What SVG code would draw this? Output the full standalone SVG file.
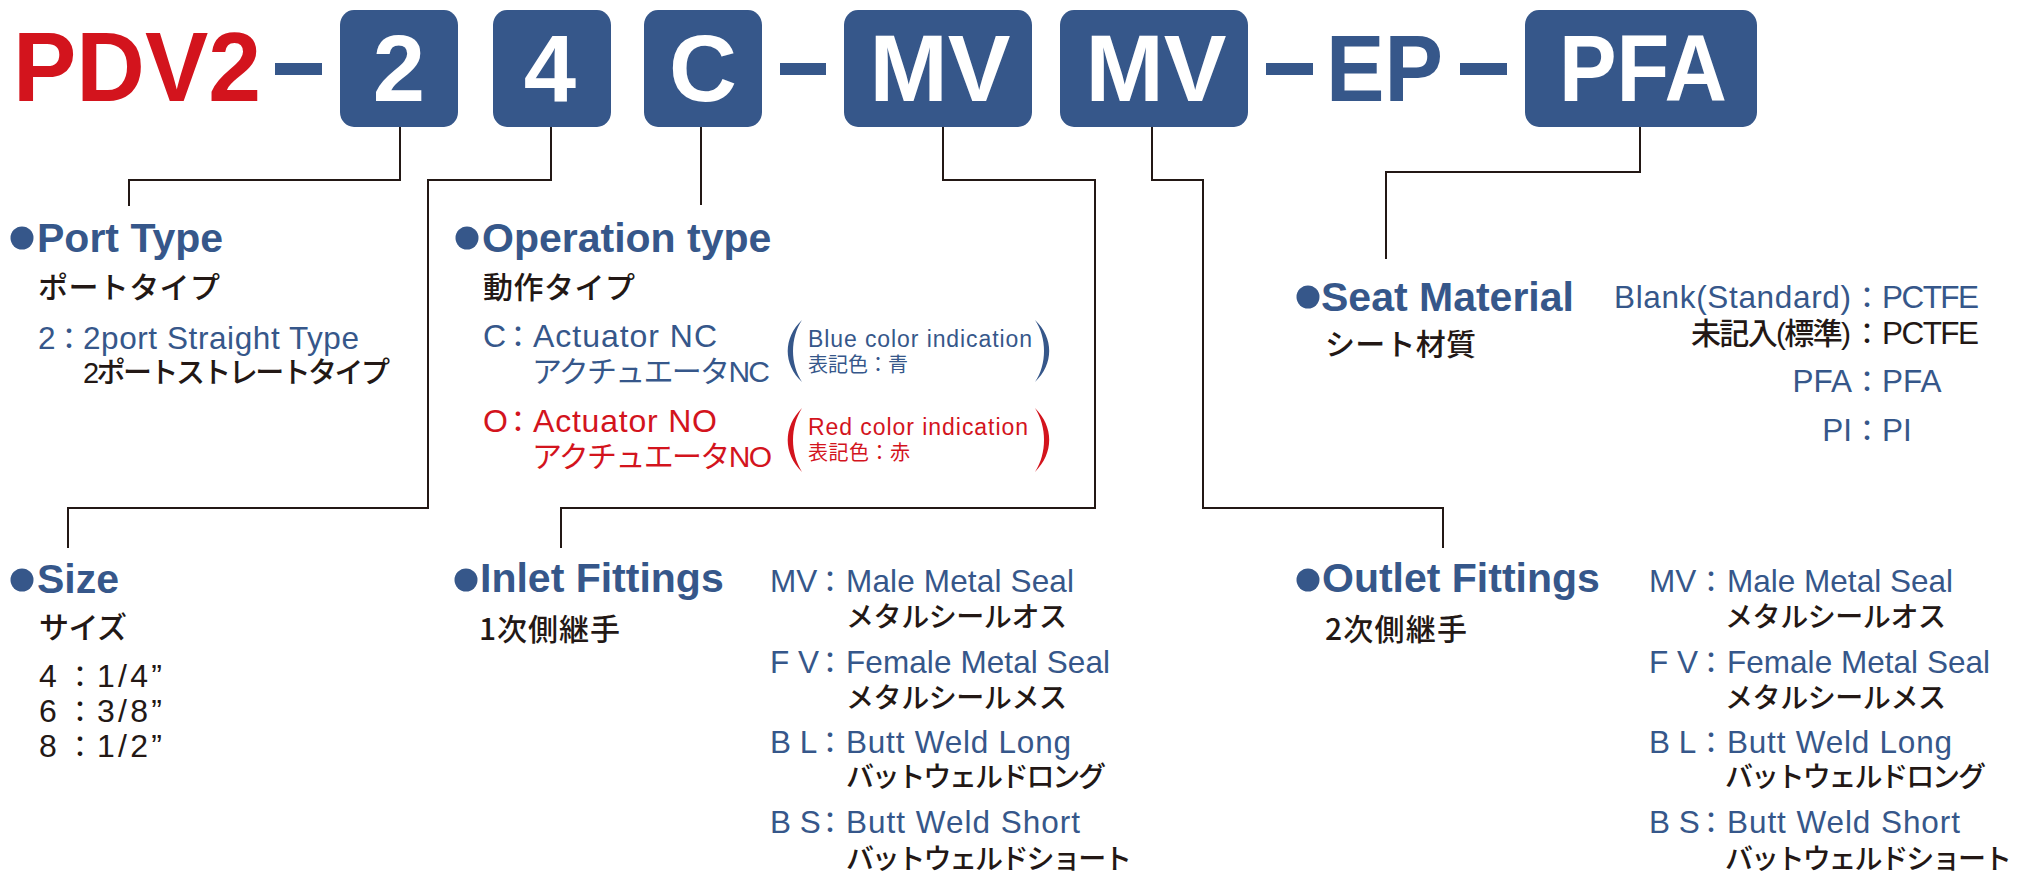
<svg xmlns="http://www.w3.org/2000/svg" width="2021" height="882" viewBox="0 0 2021 882">
<style>
.bf{fill:#36578a}
.rf{fill:#d3141d}
.kf{fill:#231815}
.box{fill:#36578a}
.title{font-family:"Liberation Sans",Arial,sans-serif;font-weight:bold;font-size:99px}
.code{font-family:"Liberation Sans",Arial,sans-serif;font-weight:bold;font-size:94px;text-anchor:middle;fill:#ffffff}
.h{font-family:"Liberation Sans",Arial,sans-serif;font-weight:bold;font-size:41px;fill:#36578a}
.j{font-family:"Noto Sans CJK JP",sans-serif;font-weight:500;font-size:30px;fill:#231815}
.o{font-family:"Liberation Sans","Noto Sans CJK JP",sans-serif;font-size:31.5px}
.oj{font-family:"Liberation Sans","Noto Sans CJK JP",sans-serif;font-weight:500;font-size:28px}
.c{font-family:"Noto Sans CJK JP",sans-serif;font-size:30px}
.s{font-family:"Liberation Sans","Noto Sans CJK JP",sans-serif;font-size:23px}
.sj{font-family:"Noto Sans CJK JP",sans-serif;font-size:20px}
.e{text-anchor:end}
.ln{fill:none;stroke:#231815;stroke-width:2}
</style>

<g id="connectors">
<path class="ln" d="M400,127 V180 H129 V206"/>
<path class="ln" d="M551,127 V180 H428 V508 H68 V548"/>
<path class="ln" d="M701,127 V205"/>
<path class="ln" d="M943,127 V180 H1095 V508 H561 V548"/>
<path class="ln" d="M1152,127 V180 H1203 V508 H1443 V548"/>
<path class="ln" d="M1640,127 V172 H1386 V259"/>
</g>

<g id="model-code">
<text class="title rf" x="13" y="101" textLength="248" lengthAdjust="spacingAndGlyphs">PDV2</text>
<rect class="bf" x="275" y="63" width="47" height="12"/>
<rect class="bf" x="780" y="63" width="46" height="12"/>
<rect class="bf" x="1266" y="63" width="47" height="12"/>
<rect class="bf" x="1460" y="63" width="47" height="12"/>
<text class="title bf" x="1326" y="101" textLength="117" lengthAdjust="spacingAndGlyphs" style="font-size:94px">EP</text>
</g>

<g id="box-port">
<rect class="box" x="340" y="10" width="118" height="117" rx="14" ry="15"/>
<text class="code" x="399" y="101">2</text>
</g>
<g id="box-size">
<rect class="box" x="493" y="10" width="118" height="117" rx="14" ry="15"/>
<text class="code" x="550" y="101">4</text>
</g>
<g id="box-operation">
<rect class="box" x="644" y="10" width="118" height="117" rx="14" ry="15"/>
<text class="code" x="703" y="101">C</text>
</g>
<g id="box-inlet">
<rect class="box" x="844" y="10" width="188" height="117" rx="14" ry="15"/>
<text class="code" x="940" y="101">MV</text>
</g>
<g id="box-outlet">
<rect class="box" x="1060" y="10" width="188" height="117" rx="14" ry="15"/>
<text class="code" x="1156" y="101">MV</text>
</g>
<g id="box-seat">
<rect class="box" x="1525" y="10" width="232" height="117" rx="14" ry="15"/>
<text class="code" x="1643" y="101" textLength="168" lengthAdjust="spacingAndGlyphs">PFA</text>
</g>

<g id="port-type">
<circle class="bf" cx="22" cy="238" r="11.5"/>
<text class="h" x="37" y="252">Port Type</text>
<text class="j" x="38" y="298" textLength="182">ポートタイプ</text>
<text class="o bf" x="38" y="349">2</text>
<text class="c bf" x="54" y="349">：</text>
<text class="o bf" x="83" y="349" textLength="276">2port Straight Type</text>
<text class="oj kf" x="83" y="383" textLength="307" style="font-size:29px">2ポートストレートタイプ</text>
</g>

<g id="operation-type">
<circle class="bf" cx="467" cy="238" r="11.5"/>
<text class="h" x="482" y="252">Operation type</text>
<text class="j" x="483" y="298" textLength="152">動作タイプ</text>
<text class="o bf" x="483" y="347" style="font-size:32px">C</text>
<text class="c bf" x="503" y="347">：</text>
<text class="o bf" x="533" y="347" textLength="184" style="font-size:32px">Actuator NC</text>
<text class="o bf" x="532" y="382" textLength="238" style="font-size:30px">アクチュエータNC</text>
<path class="bf" d="M802,320 C783,338 783,364 802,382 C790,364 790,338 802,320 Z"/>
<path class="bf" d="M1035,320 C1054,338 1054,364 1035,382 C1047,364 1047,338 1035,320 Z"/>
<text class="s bf" x="808" y="347" textLength="224">Blue color indication</text>
<text class="sj bf" x="808" y="372" textLength="100">表記色：青</text>
<text class="o rf" x="483" y="432" style="font-size:32px">O</text>
<text class="c rf" x="503" y="432">：</text>
<text class="o rf" x="533" y="432" textLength="184" style="font-size:32px">Actuator NO</text>
<text class="o rf" x="532" y="467" textLength="240" style="font-size:30px">アクチュエータNO</text>
<path class="rf" d="M802,408 C783,427 783,453 802,472 C790,453 790,427 802,408 Z"/>
<path class="rf" d="M1035,408 C1054,427 1054,453 1035,472 C1047,453 1047,427 1035,408 Z"/>
<text class="s rf" x="808" y="435" textLength="220">Red color indication</text>
<text class="sj rf" x="808" y="460" textLength="102">表記色：赤</text>
</g>

<g id="size">
<circle class="bf" cx="22" cy="580" r="11.5"/>
<text class="h" x="37" y="593">Size</text>
<text class="j" x="39" y="638" textLength="88">サイズ</text>
<text class="o kf" x="39" y="687" style="font-size:32px">4</text>
<text class="c kf" x="65" y="687">：</text>
<text class="o kf" x="97" y="687" textLength="65" style="font-size:32px">1/4”</text>
<text class="o kf" x="39" y="722" style="font-size:32px">6</text>
<text class="c kf" x="65" y="722">：</text>
<text class="o kf" x="97" y="722" textLength="65" style="font-size:32px">3/8”</text>
<text class="o kf" x="39" y="757" style="font-size:32px">8</text>
<text class="c kf" x="65" y="757">：</text>
<text class="o kf" x="97" y="757" textLength="65" style="font-size:32px">1/2”</text>
</g>

<g id="inlet-fittings">
<circle class="bf" cx="466" cy="580" r="11.5"/>
<text class="h" x="480" y="592">Inlet Fittings</text>
<text class="j" x="479" y="640" textLength="141">1次側継手</text>
<text class="o bf" x="770" y="592">MV</text>
<text class="c bf" x="815" y="592">：</text>
<text class="o bf" x="846" y="592" textLength="228">Male Metal Seal</text>
<text class="oj kf" x="846" y="627" textLength="221">メタルシールオス</text>
<text class="o bf" x="770" y="673">F V</text>
<text class="c bf" x="815" y="673">：</text>
<text class="o bf" x="846" y="673" textLength="264">Female Metal Seal</text>
<text class="oj kf" x="846" y="708" textLength="221">メタルシールメス</text>
<text class="o bf" x="770" y="753">B L</text>
<text class="c bf" x="815" y="753">：</text>
<text class="o bf" x="846" y="753" textLength="225">Butt Weld Long</text>
<text class="oj kf" x="846" y="787" textLength="260">バットウェルドロング</text>
<text class="o bf" x="770" y="833">B S</text>
<text class="c bf" x="815" y="833">：</text>
<text class="o bf" x="846" y="833" textLength="234">Butt Weld Short</text>
<text class="oj kf" x="846" y="869" textLength="286">バットウェルドショート</text>
</g>

<g id="seat-material">
<circle class="bf" cx="1308" cy="297" r="11.5"/>
<text class="h" x="1321" y="311">Seat Material</text>
<text class="j" x="1325" y="355" textLength="151">シート材質</text>
<text class="o bf" x="1614" y="308" textLength="237">Blank(Standard)</text>
<text class="c bf" x="1852" y="308">：</text>
<text class="o bf" x="1882" y="308" textLength="97">PCTFE</text>
<text class="o kf" x="1691" y="344" textLength="160" style="font-weight:500;font-size:30px">未記入(標準)</text>
<text class="c kf" x="1852" y="344">：</text>
<text class="o kf" x="1882" y="344" textLength="97">PCTFE</text>
<text class="o bf e" x="1852" y="392">PFA</text>
<text class="c bf" x="1852" y="392">：</text>
<text class="o bf" x="1882" y="392">PFA</text>
<text class="o bf e" x="1852" y="441">PI</text>
<text class="c bf" x="1852" y="441">：</text>
<text class="o bf" x="1882" y="441">PI</text>
</g>

<g id="outlet-fittings">
<circle class="bf" cx="1308" cy="580" r="11.5"/>
<text class="h" x="1322" y="592">Outlet Fittings</text>
<text class="j" x="1325" y="640" textLength="142">2次側継手</text>
<text class="o bf" x="1649" y="592">MV</text>
<text class="c bf" x="1696" y="592">：</text>
<text class="o bf" x="1727" y="592" textLength="226">Male Metal Seal</text>
<text class="oj kf" x="1725" y="627" textLength="221">メタルシールオス</text>
<text class="o bf" x="1649" y="673">F V</text>
<text class="c bf" x="1696" y="673">：</text>
<text class="o bf" x="1727" y="673" textLength="263">Female Metal Seal</text>
<text class="oj kf" x="1725" y="708" textLength="221">メタルシールメス</text>
<text class="o bf" x="1649" y="753">B L</text>
<text class="c bf" x="1696" y="753">：</text>
<text class="o bf" x="1727" y="753" textLength="225">Butt Weld Long</text>
<text class="oj kf" x="1725" y="787" textLength="261">バットウェルドロング</text>
<text class="o bf" x="1649" y="833">B S</text>
<text class="c bf" x="1696" y="833">：</text>
<text class="o bf" x="1727" y="833" textLength="233">Butt Weld Short</text>
<text class="oj kf" x="1725" y="869" textLength="287">バットウェルドショート</text>
</g>
</svg>
